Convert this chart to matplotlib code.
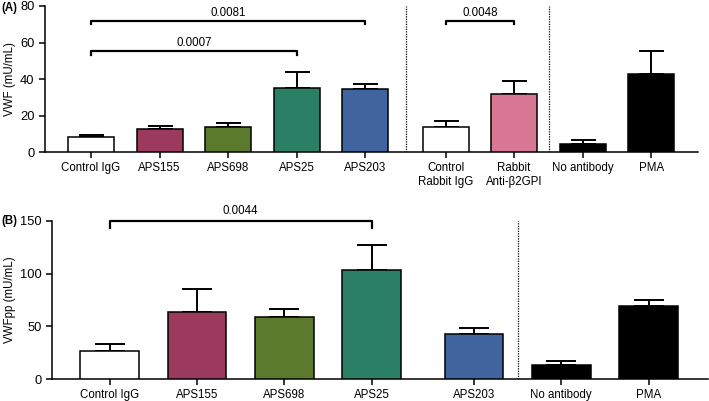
import matplotlib
matplotlib.use('Agg')
import matplotlib.pyplot as plt

plt.rcParams['font.family'] = ['Liberation Sans', 'DejaVu Sans']

# Panel A: VWF
a_labels = ['Control IgG', 'APS155', 'APS698', 'APS25', 'APS203',
            'Control\nRabbit IgG', 'Rabbit\nAnti-β2GPI', 'No antibody', 'PMA']
a_pos = [0, 1, 2, 3, 4, 5.17, 6.17, 7.17, 8.17]
a_vals = [8.0, 12.6, 13.9, 35.2, 34.7, 13.9, 31.8, 4.5, 42.6]
a_err = [1.5, 1.8, 1.8, 8.5, 2.6, 3.3, 6.9, 2.2, 12.9]
a_colors = ['white', '#9b3a5c', '#5b7a2c', '#2a7f64', '#40649e',
            'white', '#d87895', 'black', 'black']
a_dividers = [4.59, 6.68]
a_brackets = [(0, 3, 55.3, '0.0007'), (0, 4, 71.9, '0.0081'), (5.17, 6.17, 72.0, '0.0048')]

# Panel B: VWFpp
b_labels = ['Control IgG', 'APS155', 'APS698', 'APS25', 'APS203', 'No antibody', 'PMA']
b_pos = [0, 1, 2, 3, 4.17, 5.17, 6.17]
b_vals = [26.8, 63.4, 58.7, 103.4, 43.2, 13.2, 69.6]
b_err = [6.3, 22.0, 8.1, 23.6, 5.6, 4.4, 5.7]
b_colors = ['white', '#9b3a5c', '#5b7a2c', '#2a7f64', '#40649e', 'black', 'black']
b_dividers = [4.67]
b_brackets = [(0, 3, 150, '0.0044')]

FS = 8.3
W, H = 709, 401


def draw_panel(ax, pos, vals, err, colors, labels, dividers, brackets,
               ylim, yticks, ylabel, xlim, drop, cap):
    ax.bar(pos, vals, width=0.67, color=colors, edgecolor='black', linewidth=1.1, zorder=3)
    ax.errorbar(pos, vals, yerr=[[0] * len(err), err], fmt='none', ecolor='black',
                elinewidth=1.4, capsize=cap, capthick=1.4, zorder=2)
    for d in dividers:
        ax.axvline(d, color='black', linestyle=(0, (1, 1)), linewidth=0.9)
    for x1, x2, y, txt in brackets:
        ax.plot([x1, x1, x2, x2], [y - drop, y, y, y - drop], color='black',
                linewidth=1.6, clip_on=False)
        ax.text((x1 + x2) / 2, y + drop * 0.5, txt, ha='center', va='bottom', fontsize=FS)
    ax.set_xlim(*xlim)
    ax.set_ylim(*ylim)
    ax.set_yticks(yticks)
    ax.set_xticks(pos)
    ax.set_xticklabels(labels, fontsize=FS, linespacing=1.25)
    ax.tick_params(axis='y', labelsize=FS + 1, length=4, width=1.1)
    ax.tick_params(axis='x', length=4, width=1.1, pad=3)
    ax.set_ylabel(ylabel, fontsize=FS, labelpad=3)
    for s in ('top', 'right'):
        ax.spines[s].set_visible(False)
    for s in ('left', 'bottom'):
        ax.spines[s].set_linewidth(1.1)


fig = plt.figure(figsize=(W / 100, H / 100), dpi=100)
ax_a = fig.add_axes([45 / W, 249 / H, 653 / W, 146 / H])
ax_b = fig.add_axes([52 / W, 21.7 / H, 656 / W, 158.6 / H])

draw_panel(ax_a, a_pos, a_vals, a_err, a_colors, a_labels, a_dividers, a_brackets,
           (0, 80), [0, 20, 40, 60, 80], 'VWF (mU/mL)', (-0.67, 8.85), 1.9, 9)
draw_panel(ax_b, b_pos, b_vals, b_err, b_colors, b_labels, b_dividers, b_brackets,
           (0, 150), [0, 50, 100, 150], 'VWFpp (mU/mL)', (-0.66, 6.85), 7, 10.5)

fig.text(1 / W, 1 - 8 / H, '(A)', fontsize=FS, fontweight='bold', va='center')
fig.text(1 / W, 1 - 221 / H, '(B)', fontsize=FS, fontweight='bold', va='center')

plt.savefig('out.png', dpi=100)
plt.close()
